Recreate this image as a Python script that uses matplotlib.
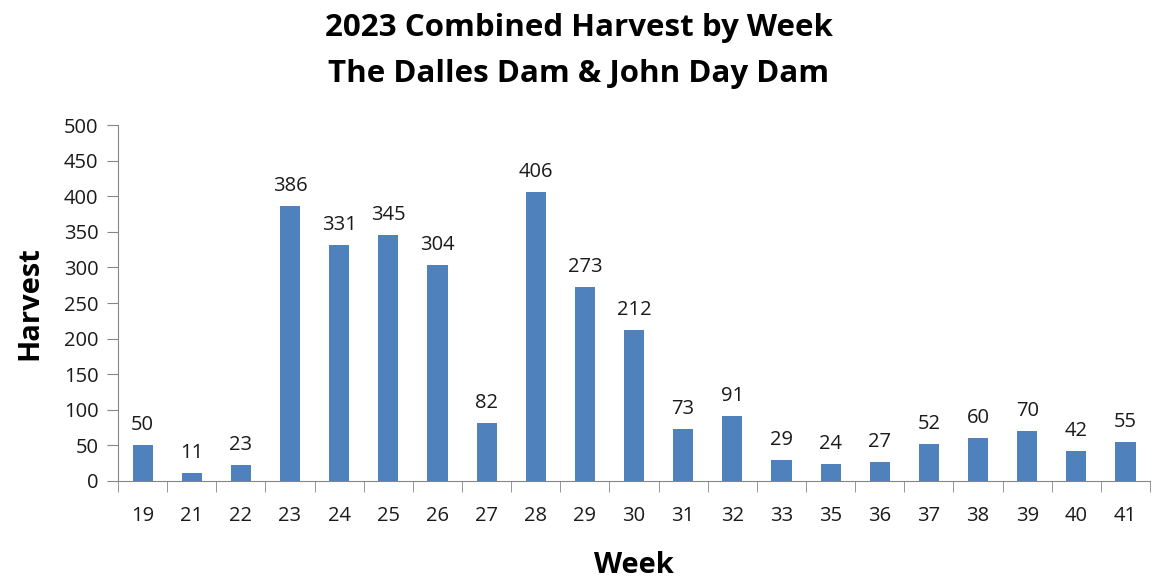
import matplotlib.pyplot as plt
import numpy as np

weeks = ["19", "21", "22", "23", "24", "25", "26", "27", "28", "29", "30",
         "31", "32", "33", "35", "36", "37", "38", "39", "40", "41"]
harvest = [50, 11, 23, 386, 331, 345, 304, 82, 406, 273, 212,
           73, 91, 29, 24, 27, 52, 60, 70, 42, 55]

plt.rcParams['font.family'] = ['Open Sans', 'DejaVu Sans']

fig = plt.figure(figsize=(11.64, 5.79), dpi=100)
ax = fig.add_axes([0.1014, 0.1693, 0.8866, 0.6147])

x = np.arange(len(weeks))
ax.bar(x, harvest, width=0.41, color='#4F81BD')
for xi, v in zip(x, harvest):
    ax.text(xi, v + 14, str(v), ha='center', va='bottom', fontsize=14.5, color='#1a1a1a')

ax.set_xlim(-0.5, len(weeks) - 0.5)
ax.set_ylim(0, 500)
ax.set_yticks(np.arange(0, 501, 50))
ax.set_xticks(x)
ax.set_xticklabels(weeks)
ax.set_xticks(np.arange(-0.5, len(weeks), 1), minor=True)
ax.tick_params(axis='x', which='major', length=0, pad=18, labelsize=14.5, labelcolor='#1a1a1a')
ax.tick_params(axis='x', which='minor', length=8, color='#868686', direction='out')
ax.tick_params(axis='y', length=8, color='#868686', labelsize=14.5, pad=6, labelcolor='#1a1a1a')

for s in ['top', 'right']:
    ax.spines[s].set_visible(False)
for s in ['left', 'bottom']:
    ax.spines[s].set_color('#868686')

ax.set_xlabel('Week', fontsize=21, fontweight='bold', labelpad=18)
ax.set_ylabel('Harvest', fontsize=21, fontweight='bold', labelpad=14)
fig.suptitle('2023 Combined Harvest by Week\nThe Dalles Dam & John Day Dam',
             fontsize=22.5, fontweight='bold', x=0.497, y=0.978, linespacing=1.72)

fig.savefig('out.png', dpi=100)
